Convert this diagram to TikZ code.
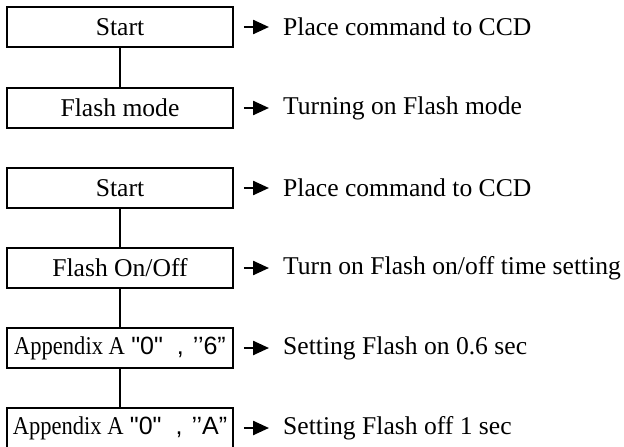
\documentclass[tikz,border=0pt]{standalone}
\usepackage{fontspec}
\setmainfont{Liberation Serif}
\setsansfont{Liberation Sans}
\newfontfamily\condfont[FakeStretch=0.88]{Liberation Serif}
\usepackage{tikz}
\usetikzlibrary{arrows.meta,positioning}

\newcommand{\appcode}[1]{{\condfont Appendix A} {\sffamily\fontsize{25}{28}\selectfont \textquotedbl 0\textquotedbl\hspace{14pt},\hspace{9pt}’’#1”}}

\begin{document}
\begin{tikzpicture}[x=1pt, y=-1pt,
		every node/.style={font=\fontsize{25.6}{30}\selectfont},
		stepbox/.style={draw, line width=1.6pt, minimum width=226pt, minimum height=40pt, inner sep=0pt},
		note/.style={anchor=west, inner sep=0pt},
		pointer/.style={line width=2.4pt, -{Triangle[length=16pt,width=14pt]}, shorten <=10pt, shorten >=14pt}]
			\clip (0, 0) rectangle (624, 447);
			% first sequence
			\node[stepbox] (start1) at (120, 27) {Start};
			\node[stepbox] (mode) at (120, 108) {Flash mode};
			\node[note] (txt1) at (283, 27) {Place command to CCD};
			\node[note] (txt2) at (283, 108) {Turning on Flash mode};
			% second sequence
			\node[stepbox] (start2) at (120, 188) {Start};
			\node[stepbox] (onoff) at (120, 268) {Flash On/Off};
			\node[stepbox] (appon) at (120, 348) {\appcode{6}};
			\node[stepbox] (appoff) at (120, 428) {\appcode{A}};
			\node[note] (txt3) at (283, 188) {Place command to CCD};
			\node[note] (txt4) at (283, 268) {Turn on Flash on/off time setting};
			\node[note] (txt5) at (283, 348) {Setting Flash on 0.6 sec};
			\node[note] (txt6) at (283, 428) {Setting Flash off 1 sec};

			\draw [line width=1.6pt] (start1) to (mode);
			\draw [line width=1.6pt] (start2) to (onoff);
			\draw [line width=1.6pt] (onoff) to (appon);
			\draw [line width=1.6pt] (appon) to (appoff);

			\draw [pointer] (start1) to (txt1);
			\draw [pointer] (mode) to (txt2);
			\draw [pointer] (start2) to (txt3);
			\draw [pointer] (onoff) to (txt4);
			\draw [pointer] (appon) to (txt5);
			\draw [pointer] (appoff) to (txt6);
		\end{tikzpicture}
\end{document}
